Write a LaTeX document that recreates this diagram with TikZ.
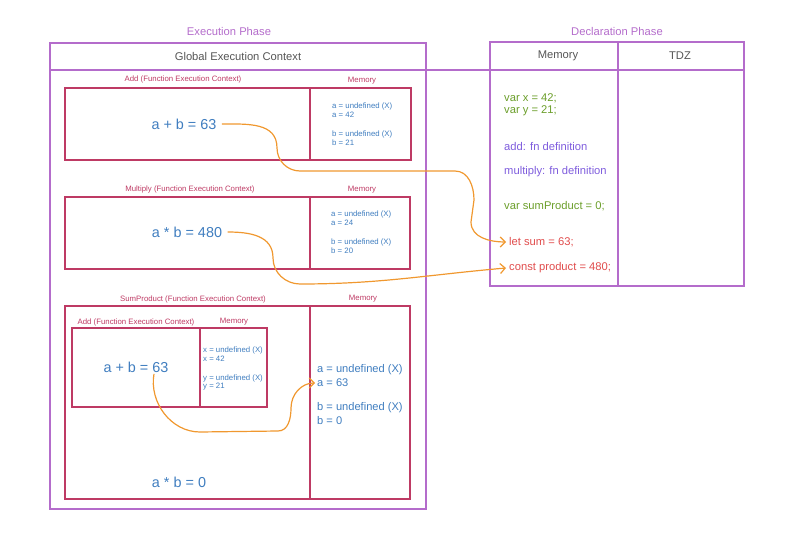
\documentclass[tikz,border=0pt]{standalone}
\usepackage{fontspec}
\setmainfont{Liberation Sans}
\usetikzlibrary{arrows.meta}
\definecolor{phase}{HTML}{B46CCB}
\definecolor{crim}{HTML}{BE3A64}
\definecolor{valblue}{HTML}{3F7DBF}
\definecolor{hdr}{HTML}{555555}
\definecolor{grn}{HTML}{6B9E2A}
\definecolor{vio}{HTML}{7E5CDD}
\definecolor{rd}{HTML}{E04C4C}
\definecolor{org}{HTML}{F0982F}
\tikzset{
  phasebox/.style={draw=phase, line width=1.1pt},
  ctxbox/.style={draw=crim, line width=1.1pt},
  phasetitle/.style={text=phase, font=\fontsize{11.2}{13}\selectfont},
  hdrtext/.style={text=hdr, font=\fontsize{11.2}{13}\selectfont},
  ctxtitle/.style={text=crim, font=\fontsize{7.8}{9}\selectfont},
  bigval/.style={text=valblue, font=\fontsize{14.4}{16}\selectfont},
  smallval/.style={text=valblue, font=\fontsize{7.8}{9}\selectfont, anchor=west, inner sep=0pt},
  midval/.style={text=valblue, font=\fontsize{11.1}{13}\selectfont, anchor=west, inner sep=0pt},
  decl/.style={font=\fontsize{11.2}{13}\selectfont, anchor=west, inner sep=0pt},
  flow/.style={draw=org, line width=1.2pt, -{Straight Barb[length=5pt,width=10pt]}},
}
\begin{document}
\begin{tikzpicture}[x=1pt,y=-1pt]
\useasboundingbox (0,0) rectangle (800,540);

% Execution phase
\node[phasetitle] (exectitle) at (229,31) {Execution Phase};
\draw[phasebox] (50,43) rectangle (426,509);
\draw[phasebox] (50,70) -- (744,70);
\node[hdrtext] (gec) at (238,56) {Global Execution Context};

% Declaration phase
\node[phasetitle] (decltitle) at (617,31) {Declaration Phase};
\draw[phasebox] (490,42) rectangle (744,286);
\draw[phasebox] (618,42) -- (618,286);
\node[hdrtext] (dmem) at (558,56) {Memory};
\node[hdrtext] (tdz) at (680,56) {TDZ};

% Add context
\draw[ctxbox] (65,88) rectangle (411,160);
\draw[ctxbox] (310,88) -- (310,160);
\node[ctxtitle] (addt) at (183,79) {Add (Function Execution Context)};
\node[ctxtitle] (addm) at (362,81) {Memory};
\node[bigval] (add1) at (184,124) {a + b = 63};
\node[smallval] (a1a) at (332,106) {a = undefined (X)};
\node[smallval] (a1b) at (332,115) {a = 42};
\node[smallval] (a1c) at (332,134) {b = undefined (X)};
\node[smallval] (a1d) at (332,143) {b = 21};

% Multiply context
\draw[ctxbox] (65,197) rectangle (410,269);
\draw[ctxbox] (310,197) -- (310,269);
\node[ctxtitle] (mult) at (190,189) {Multiply (Function Execution Context)};
\node[ctxtitle] (mulm) at (362,190) {Memory};
\node[bigval] (mul) at (187,232) {a * b = 480};
\node[smallval] (m1a) at (331,214) {a = undefined (X)};
\node[smallval] (m1b) at (331,223) {a = 24};
\node[smallval] (m1c) at (331,242) {b = undefined (X)};
\node[smallval] (m1d) at (331,251) {b = 20};

% SumProduct context
\draw[ctxbox] (65,306) rectangle (410,499);
\draw[ctxbox] (310,306) -- (310,499);
\node[ctxtitle] (spt) at (193,299) {SumProduct (Function Execution Context)};
\node[ctxtitle] (spm) at (363,299) {Memory};
\node[bigval] (spval) at (179,482) {a * b = 0};
\node[midval] (s1a) at (317,370) {a = undefined (X)};
\node[midval] (s1b) at (317,383) {a = 63};
\node[midval] (s1c) at (317,408) {b = undefined (X)};
\node[midval] (s1d) at (317,421) {b = 0};

% Inner add context
\draw[ctxbox] (72,328) rectangle (267,407);
\draw[ctxbox] (200,328) -- (200,407);
\node[ctxtitle] (iaddt) at (136,322) {Add (Function Execution Context)};
\node[ctxtitle] (iaddm) at (234,322) {Memory};
\node[bigval] (add2) at (136,367) {a + b = 63};
\node[smallval] (i1a) at (203,350) {x = undefined (X)};
\node[smallval] (i1b) at (203,359) {x = 42};
\node[smallval] (i1c) at (203,378) {y = undefined (X)};
\node[smallval] (i1d) at (203,387) {y = 21};

% Declaration memory
\node[decl, text=grn] (vx) at (504,98) {var x = 42;};
\node[decl, text=grn] (vy) at (504,111) {var y = 21;};
\node[decl, text=vio] (fadd) at (504,146) {add: fn definition};
\node[decl, text=vio] (fmul) at (504,172) {multiply: fn definition};
\node[decl, text=grn] (vsp) at (504,206) {var sumProduct = 0;};
\node[decl, text=rd] (letsum) at (509,242) {let sum = 63;};
\node[decl, text=rd] (constp) at (509,268) {const product = 480;};

% Flows
\draw[flow] ([xshift=2pt]add1.east) to[out=0,in=90,looseness=1.1] (277,148)
  to[out=-90,in=180] (300,171) -- (455,171)
  to[out=0,in=90] (474,200) -- (471,222)
  to[out=-90,in=180] ([xshift=-3pt]letsum.west);
\draw[flow] ([xshift=2pt]mul.east) to[out=0,in=90,looseness=1.1] (273,258)
  to[out=-90,in=180] (300,284) to[out=0,in=185] ([xshift=-3pt]constp.west);
\draw[flow] ([xshift=18pt,yshift=2pt]add2.south) to[out=-100,in=180] (200,432)
  -- (278,431) to[out=0,in=-90] (291,408) to[out=90,in=180] ([xshift=-2pt]s1b.west);
\end{tikzpicture}
\end{document}
